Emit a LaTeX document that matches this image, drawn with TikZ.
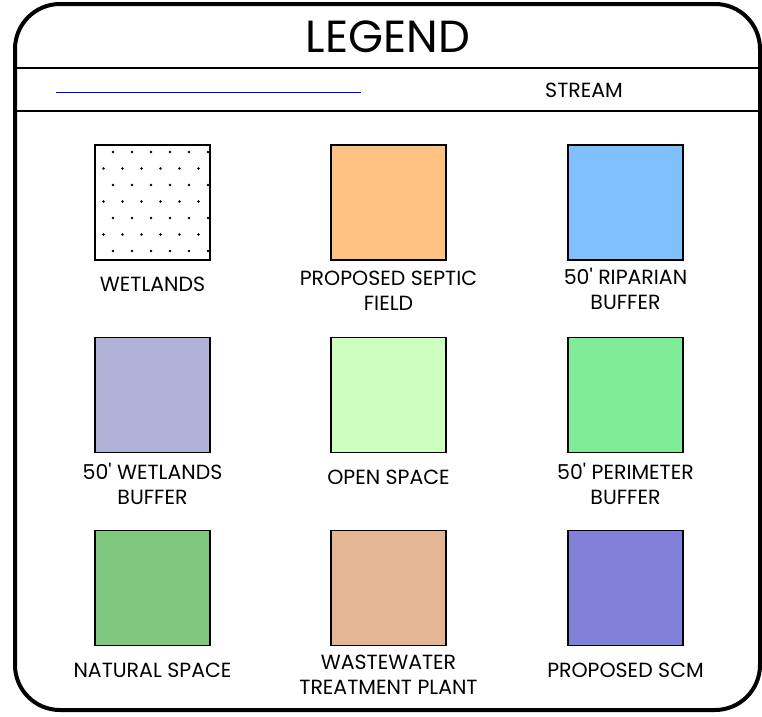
\documentclass[tikz,border=0pt]{standalone}
\usepackage{fontspec}
\setmainfont{Poppins}
\usetikzlibrary{positioning}

\definecolor{septic}{RGB}{255,194,130}
\definecolor{riparian}{RGB}{128,192,255}
\definecolor{wetbuf}{RGB}{176,178,216}
\definecolor{openspc}{RGB}{204,255,192}
\definecolor{perim}{RGB}{128,236,152}
\definecolor{natural}{RGB}{128,200,128}
\definecolor{wwtp}{RGB}{228,182,150}
\definecolor{scm}{RGB}{128,128,216}

\begin{document}
\begin{tikzpicture}[
    x=1pt,y=-1pt,
    swatch/.style={rectangle,draw,line width=1.5pt,minimum width=115pt,minimum height=115pt,inner sep=0pt},
    lbl/.style={font=\fontsize{20.5}{25}\selectfont,align=center,inner sep=0pt},
    sep/.style={line width=2pt}
]
    \useasboundingbox (0,0) rectangle (762,716);

    % outer frame and header rows
    \draw[line width=4pt,rounded corners=45pt] (15,4) rectangle (760,710);
    \draw[line width=1.5pt] (15,68) -- (762,68);
    \draw[sep] (15,111) -- (762,111);
    \node[font=\fontsize{45}{45}\selectfont,inner sep=0pt] (title) at (388,37) {LEGEND};
    \coordinate (s1) at (56,92);
    \coordinate (s2) at (361,92);
    \draw[blue,line width=1pt] (s1) -- (s2);
    \node[lbl] (stream) at (584,90) {STREAM};

    % swatches
    \node[swatch] (wet) at (152.5,202.5) {};
    \node[swatch,fill=septic] (sep) at (388.5,202.5) {};
    \node[swatch,fill=riparian] (rip) at (625.5,202.5) {};
    \node[swatch,fill=wetbuf] (wbuf) at (152.5,395) {};
    \node[swatch,fill=openspc] (open) at (388.5,395) {};
    \node[swatch,fill=perim] (pbuf) at (625.5,395) {};
    \node[swatch,fill=natural] (nat) at (152.5,588) {};
    \node[swatch,fill=wwtp] (plant) at (388.5,588) {};
    \node[swatch,fill=scm] (pscm) at (625.5,588) {};

    % wetland dots
    \foreach \r in {0,...,6} {
        \pgfmathsetmacro{\off}{mod(\r,2)==0 ? 113 : 103.5}
        \foreach \c in {0,...,5} {
            \fill ({\off+19*\c},{152+16.5*\r}) circle (1.3pt);
        }
    }
    \node[swatch] at (wet) {};

    % labels
    \node[lbl,below=16pt of wet] (wetl) {WETLANDS};
    \node[lbl,below=10pt of sep] (sepl) {PROPOSED SEPTIC\\FIELD};
    \node[lbl,below=7pt of rip] (ripl) {50\textquotesingle{} RIPARIAN\\BUFFER};
    \node[lbl,below=10pt of wbuf] (wbufl) {50\textquotesingle{} WETLANDS\\BUFFER};
    \node[lbl,below=17pt of open] (openl) {OPEN SPACE};
    \node[lbl,below=10pt of pbuf] (pbufl) {50\textquotesingle{} PERIMETER\\BUFFER};
    \node[lbl,below=17pt of nat] (natl) {NATURAL SPACE};
    \node[lbl,below=9pt of plant] (plantl) {WASTEWATER\\TREATMENT PLANT};
    \node[lbl,below=17pt of pscm] (pscml) {PROPOSED SCM};
\end{tikzpicture}
\end{document}
